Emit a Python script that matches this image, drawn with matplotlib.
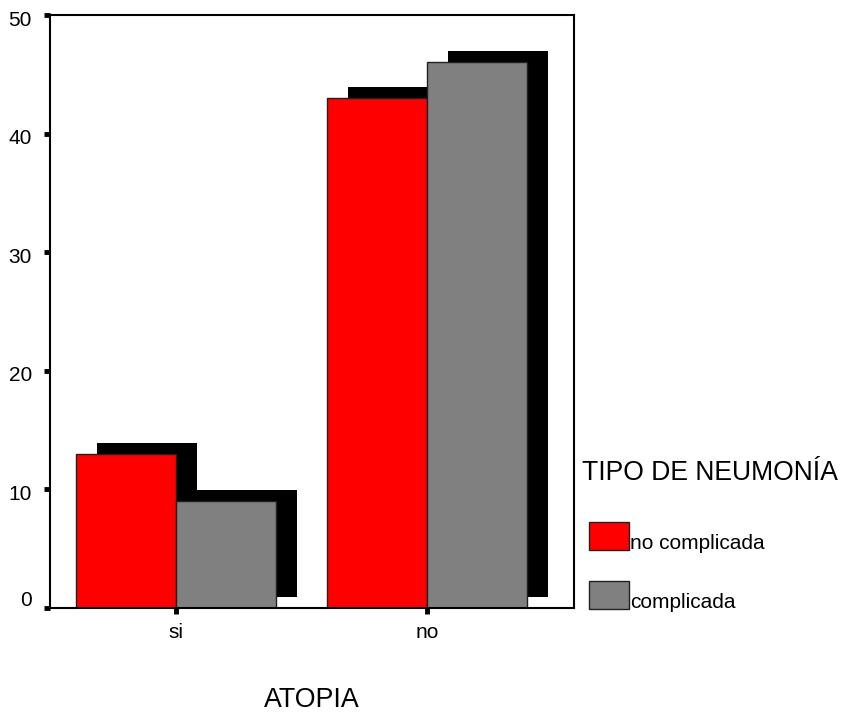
import matplotlib
matplotlib.use("Agg")
import matplotlib.pyplot as plt
import matplotlib.transforms as mtransforms
from matplotlib.patches import Rectangle
import numpy as np

plt.rcParams['font.family'] = ['Liberation Sans', 'DejaVu Sans']

categories = ["si", "no"]
series_names = ["no complicada", "complicada"]
no_complicada = [13, 43]
complicada = [9, 46]
series_values = [no_complicada, complicada]
series_colors = ["#ff0000", "#808080"]
y_ticks = [0, 10, 20, 30, 40, 50]

W, H = 844, 713
fig = plt.figure(figsize=(W / 100, H / 100), dpi=100)
ax = fig.add_axes([50 / W, 1 - 608 / H, (574 - 50) / W, (608 - 15) / H])

x = np.arange(len(categories))
width = 0.398
offsets = [-width / 2, width / 2]

# drop shadows: same bars shifted right and up by a fixed number of pixels
shadow_tr = mtransforms.offset_copy(ax.transData, fig=fig, x=21, y=11, units='dots')
for vals, off in zip(series_values, offsets):
    ax.bar(x + off, vals, width=width, color="black", edgecolor="black",
           linewidth=0, transform=shadow_tr, zorder=1)

for vals, off, col in zip(series_values, offsets, series_colors):
    ax.bar(x + off, vals, width=width, color=col, edgecolor="#202020",
           linewidth=1.0, zorder=2)

ax.set_xlim(-0.502, 1.586)
ax.set_ylim(0, 50)
ax.set_yticks(y_ticks)
ax.set_yticklabels([str(v) for v in y_ticks], fontsize=15)
ax.set_xticks(x)
ax.set_xticklabels(categories, fontsize=15)
ax.tick_params(axis='both', direction='out', length=4, width=3.5, color='black')
ax.tick_params(axis='y', pad=9)
ax.tick_params(axis='x', pad=7)
for s in ax.spines.values():
    s.set_linewidth(1.5)
    s.set_color('black')
    s.set_zorder(3)

# nudge the value labels: slightly below their ticks, the zero label above
for tick, v in zip(ax.yaxis.get_major_ticks(), y_ticks):
    dy = 9 if v == 0 else -3
    lab = tick.label1
    lab.set_transform(lab.get_transform() +
                      mtransforms.ScaledTranslation(0, dy / 100, fig.dpi_scale_trans))

fig.text(312 / W, 1 - 707 / H, "ATOPIA", fontsize=19.3, ha='center', va='baseline')

# legend
fig.text(582 / W, 1 - 480 / H, "TIPO DE NEUMONÍA", fontsize=19.1, ha='left', va='baseline')
legend_rows = [(522, 550), (581, 609)]
for name, col, (y0, y1) in zip(series_names, series_colors, legend_rows):
    fig.patches.append(Rectangle((589 / W, 1 - y1 / H), 40 / W, (y1 - y0) / H,
                                 transform=fig.transFigure, facecolor=col,
                                 edgecolor='#202020', linewidth=1.0))
    fig.text(630 / W, 1 - (y1 - 1) / H, name, fontsize=15, ha='left', va='baseline')

fig.savefig("out.png", dpi=100)
